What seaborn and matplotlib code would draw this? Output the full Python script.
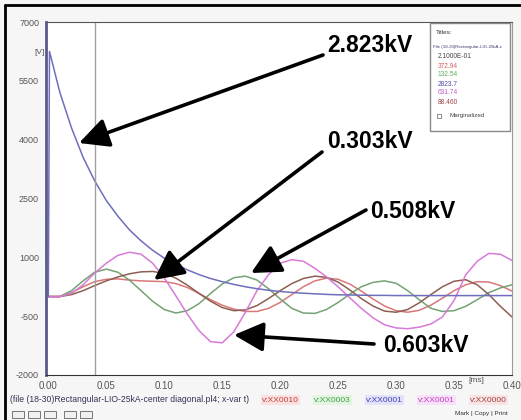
import pandas as pd
import seaborn as sns
import matplotlib.pyplot as plt
from matplotlib.patches import Rectangle
from matplotlib.lines import Line2D

sns.set_style("white")
plt.rcParams['font.family'] = ['Liberation Sans', 'DejaVu Sans']

# time axis in ms (every 0.01)
t = [0.00, 0.01, 0.02, 0.03, 0.04, 0.05, 0.06, 0.07, 0.08, 0.09,
     0.10, 0.11, 0.12, 0.13, 0.14, 0.15, 0.16, 0.17, 0.18, 0.19,
     0.20, 0.21, 0.22, 0.23, 0.24, 0.25, 0.26, 0.27, 0.28, 0.29,
     0.30, 0.31, 0.32, 0.33, 0.34, 0.35, 0.36, 0.37, 0.38, 0.39, 0.40]

blue_t = [0.0, 0.001] + t[1:]
blue = [0, 6250, 5200, 4300, 3550, 2950, 2450, 2050, 1700, 1420, 1180,
        980, 820, 680, 560, 460, 380, 310, 250, 200, 160,
        130, 105, 85, 70, 55, 45, 40, 35, 30, 30,
        25, 25, 25, 25, 25, 25, 25, 25, 25, 25, 25]

magenta = [0, 0, 80, 300, 600, 850, 1050, 1130, 1080, 850,
           480, 20, -450, -870, -1150, -1180, -900, -400, 150, 560,
           850, 940, 900, 720, 500, 250, -30, -300, -540, -720,
           -800, -820, -780, -700, -520, -100, 550, 900, 1100, 1080, 920]

green = [0, 0, 150, 400, 620, 700, 620, 420, 150, -120,
         -330, -420, -360, -180, 80, 320, 480, 520, 420, 200,
         -60, -300, -420, -430, -330, -150, 60, 250, 360, 400,
         340, 150, -80, -300, -380, -360, -250, -80, 100, 220, 300]

brown = [0, 0, 50, 150, 280, 400, 500, 580, 630, 640,
         590, 470, 290, 80, -120, -280, -360, -340, -230, -50,
         150, 330, 460, 520, 490, 370, 170, -50, -240, -370,
         -400, -330, -160, 50, 250, 390, 430, 300, 50, -250, -520]

red = [0, 0, 100, 250, 380, 440, 450, 420, 400, 390,
       380, 330, 230, 80, -80, -220, -320, -380, -380, -300,
       -150, 50, 250, 400, 470, 440, 320, 140, -60, -240,
       -360, -400, -350, -220, -40, 150, 300, 380, 370, 280, 140]

yticks = [-2000, -500, 1000, 2500, 4000, 5500, 7000]
xticks = [0.00, 0.05, 0.10, 0.15, 0.20, 0.25, 0.30, 0.35, 0.40]
xlabels = ['0.00', '0.05', '0.10', '0.15', '0.20', '0.25', '0.30', '0.35', '0.40']

W, H = 521, 420
fig = plt.figure(figsize=(W / 100, H / 100), dpi=100, facecolor='#f6f6f6')
ax = fig.add_axes([46 / W, 1 - 375 / H, (512 - 46) / W, (375 - 22) / H])
ax.set_facecolor('white')

df = pd.concat([
    pd.DataFrame({'t': t, 'v': red, 's': 'red'}),
    pd.DataFrame({'t': t, 'v': green, 's': 'green'}),
    pd.DataFrame({'t': t, 'v': brown, 's': 'brown'}),
    pd.DataFrame({'t': t, 'v': magenta, 's': 'magenta'}),
    pd.DataFrame({'t': blue_t, 'v': blue, 's': 'blue'}),
])
pal = {'red': '#d87878', 'green': '#74a274', 'brown': '#8e5e52',
       'magenta': '#d77ad7', 'blue': '#6e6ebc'}
sns.lineplot(data=df, x='t', y='v', hue='s', palette=pal, legend=False,
             sort=False, estimator=None, lw=1.1, ax=ax)

ax.axvline(0.04, color='#a0a0a0', lw=1)
ax.set_xlim(-0.002, 0.40)
ax.set_ylim(-2000, 7000)
ax.set_yticks(yticks)
ax.set_yticklabels([str(v) for v in yticks])
ax.set_xticks(xticks)
ax.set_xticklabels(xlabels)
ax.set_xlabel('')
ax.set_ylabel('')
ax.tick_params(axis='y', direction='out', length=4, width=0.8, pad=1,
               labelsize=6.5, labelcolor='#555555', color='#555555')
ax.tick_params(axis='x', direction='inout', length=6, width=0.8, pad=1,
               labelsize=7, labelcolor='#555555', color='#555555')
ax.spines['left'].set_color('#5a5a8a')
ax.spines['left'].set_linewidth(2)
ax.spines['bottom'].set_color('#333333')
ax.spines['top'].set_color('#555555')
ax.spines['right'].set_color('#999999')

fig.text(34 / W, 1 - 52 / H, '[V]', fontsize=6, color='#555555', va='center')
fig.text(468 / W, 1 - 380 / H, '[ms]', fontsize=6, color='#555555', va='center')

# picture frame
fig.add_artist(Line2D([5 / W, 5 / W], [0, 1 - 5 / H], color='black', lw=2))
fig.add_artist(Line2D([5 / W, 1], [1 - 5 / H, 1 - 5 / H], color='black', lw=2))

# legend box
fig.add_artist(Rectangle((430 / W, 1 - 131 / H), 80 / W, 108 / H, transform=fig.transFigure,
                         facecolor='white', edgecolor='#888888', lw=1))
fig.text(436 / W, 1 - 33 / H, 'Titles:', fontsize=4.5, color='#333333', va='center')
fig.text(433 / W, 1 - 47 / H, 'File (18-30)Rectangular-LIO-25kA-c', fontsize=3.2,
         color='#3a3a6a', va='center')
legend_vals = ['2.1000E-01', '372.94', '132.54', '2823.7', '631.74', '88.460']
legend_cols = ['#444444', '#d06060', '#60b060', '#5050b0', '#c860c8', '#a04848']
for i, (s, c) in enumerate(zip(legend_vals, legend_cols)):
    fig.text(438 / W, 1 - (57 + 9 * i) / H, s, fontsize=4.8, color=c, va='center')
fig.add_artist(Rectangle((437 / W, 1 - 118 / H), 4 / W, 4 / H, transform=fig.transFigure,
                         facecolor='white', edgecolor='#777777', lw=0.6))
fig.text(450 / W, 1 - 116 / H, 'Marginalized', fontsize=4.5, color='#444444', va='center')

# bottom status line
fig.text(10 / W, 1 - 400 / H, '(file (18-30)Rectangular-LIO-25kA-center diagonal.pl4; x-var t)',
         fontsize=6.2, color='#333355', va='center')
bottom_labels = ['v:XX0010', 'v:XX0003', 'v:XX0001', 'v:XX0001', 'v:XX0000']
bottom_x = [262, 314, 366, 418, 470]
bottom_fg = ['#c04040', '#40a040', '#4040b0', '#c040c0', '#a04040']
bottom_bg = ['#fbe0e0', '#e2f5e2', '#e2e2fa', '#f8e0f8', '#f8e4e4']
for s, x, fg, bg in zip(bottom_labels, bottom_x, bottom_fg, bottom_bg):
    fig.text(x / W, 1 - 400 / H, s, fontsize=6, color=fg, va='center',
             bbox=dict(boxstyle='square,pad=0.15', fc=bg, ec='none'))
for x in [12, 28, 44, 64, 80]:
    fig.add_artist(Rectangle((x / W, 1 - 418 / H), 12 / W, 7 / H, transform=fig.transFigure,
                             facecolor='#f0f0f0', edgecolor='#777777', lw=0.7))
fig.text(455 / W, 1 - 414 / H, 'Mark | Copy | Print', fontsize=4.6, color='#333333', va='center')

# annotations with arrows
notes = ['2.823kV', '0.303kV', '0.508kV', '0.603kV']
text_xy = [(327, 46), (327, 142), (370, 212), (383, 346)]
tail_xy = [(323, 55), (322, 152), (366, 210), (374, 344)]
tip_xy = [(79, 143), (154, 280), (251, 273), (234, 335)]
for s, (tx, ty), (ax0, ay0), (bx, by) in zip(notes, text_xy, tail_xy, tip_xy):
    fig.text(tx / W, 1 - ty / H, s, fontsize=16.5, fontweight='bold', color='black', va='center')
    ax.annotate('', xy=(bx, H - by), xycoords='figure pixels',
                xytext=(ax0, H - ay0), textcoords='figure pixels',
                arrowprops=dict(arrowstyle='-|>,head_length=0.9,head_width=0.45',
                                mutation_scale=20, lw=2.6, color='black',
                                shrinkA=0, shrinkB=0))

plt.savefig('out.png', dpi=100, facecolor=fig.get_facecolor())
